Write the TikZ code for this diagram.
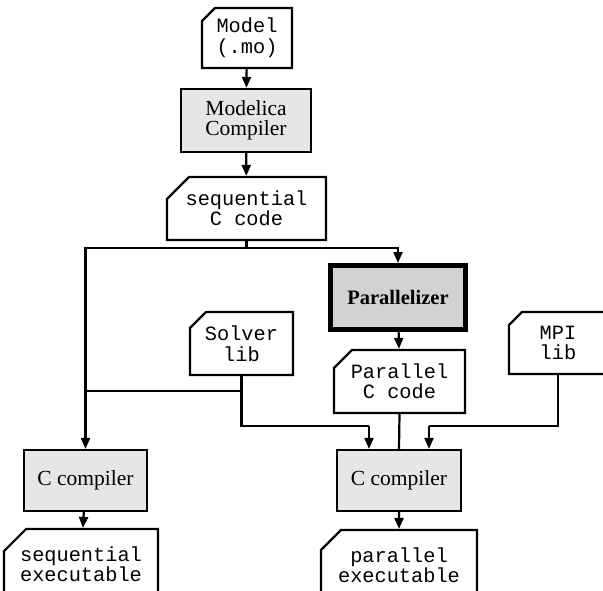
\documentclass[tikz,border=0pt]{standalone}
\usepackage{fontspec}
\setmainfont{Liberation Serif}
\setmonofont{Liberation Mono}
\usetikzlibrary{shapes.misc,arrows.meta}

\definecolor{toolfill}{HTML}{E6E6E6}
\definecolor{corefill}{HTML}{D2D2D2}

\tikzset{
  flow/.style={line width=2.2pt},
  arr/.style={flow,-{Triangle[length=11pt,width=9pt]}},
  filebox/.style={draw,line width=2.2pt,fill=white,
    chamfered rectangle,chamfered rectangle corners=north west,
    chamfered rectangle xsep=#1,chamfered rectangle ysep=6pt,
    inner sep=0pt,align=center,
    font=\fontsize{20.3}{20.5}\selectfont\ttfamily},
  filebox/.default=8pt,
  toolbox/.style={draw,line width=2.2pt,fill=toolfill,rectangle,
    inner sep=0pt,align=center,
    font=\fontsize{21.5}{20}\selectfont\rmfamily},
  corebox/.style={draw,line width=5pt,fill=corefill,rectangle,
    inner sep=0pt,align=center,
    font=\fontsize{20.5}{20}\selectfont\rmfamily\bfseries},
}

\begin{document}
\begin{tikzpicture}[x=1pt,y=-1pt]
\useasboundingbox (0,0) rectangle (603,591);
\clip (0,0) rectangle (603,591);

% source and compiler chain
\node[filebox=7pt,minimum width=90pt,minimum height=60pt] (model) at (247,38) {Model\\(.mo)};
\node[toolbox,minimum width=130pt,minimum height=63pt] (mc) at (246,120.5) {Modelica\\Compiler};
\node[filebox=16pt,minimum width=159pt,minimum height=63pt] (seq) at (246.5,208.5) {sequential\\C code};

% parallel branch
\node[corebox,minimum width=135pt,minimum height=64pt] (par) at (398,297.5) {Parallelizer};
\node[filebox=12pt,minimum width=131pt,minimum height=63pt] (pcode) at (399.5,381.5) {Parallel\\C code};

% libraries
\node[filebox=10pt,minimum width=103pt,minimum height=63pt] (solver) at (241.5,343.5) {Solver\\lib};
\node[filebox=7pt,minimum width=98pt,minimum height=62pt] (mpi) at (558,343) {MPI\\lib};

% back-end compilers
\node[toolbox,minimum width=123pt,minimum height=61pt] (cc1) at (85.5,480.5) {C compiler};
\node[toolbox,minimum width=124pt,minimum height=61pt] (cc2) at (399,480.5) {C compiler};

% executables
\node[filebox=16pt,minimum width=148pt,minimum height=70pt] (seqexe) at (81,564) {sequential\\executable};
\node[filebox=14pt,minimum width=156pt,minimum height=70pt] (parexe) at (399,565) {parallel\\executable};

% junction points
\coordinate (split) at (246.5,248);
\coordinate (solverjoin) at (241.5,391);
\coordinate (solverbend) at (369,426);
\coordinate (mpibend) at (429,426);

% connectors
\draw[arr] (model) -- (mc);
\draw[arr] (mc) -- (seq);
\draw[flow] (seq.south) -- (split);
\draw[arr] (split) -| (par.north);
\draw[arr] (split) -| (cc1.north);
\draw[arr] (par) -- (pcode);
\draw[flow] (pcode.south) -- (cc2.north);
\draw[flow] (solverjoin) -- (solverjoin -| cc1.north);
\draw[flow] (solver.south) |- (solverbend);
\draw[arr] (solverbend) -- (solverbend |- cc2.north);
\draw[flow] (mpi.south) |- (mpibend);
\draw[arr] (mpibend) -- (mpibend |- cc2.north);
\draw[arr] (cc1) -- (seqexe);
\draw[arr] (cc2) -- (parexe);
\end{tikzpicture}
\end{document}
